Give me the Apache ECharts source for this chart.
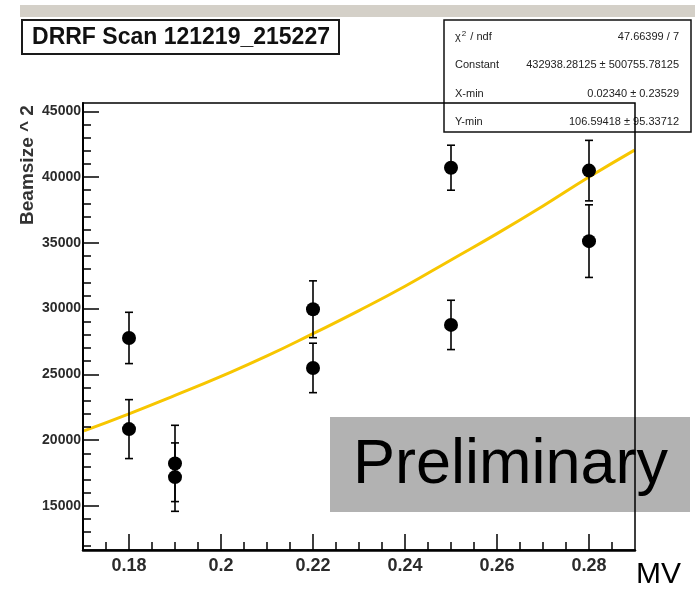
<!DOCTYPE html>
<html>
<head>
<meta charset="utf-8">
<script src="https://cdn.jsdelivr.net/npm/echarts@6/dist/echarts.min.js"></script>
<style>
  html, body { margin: 0; padding: 0; background: #ffffff; }
  #chart { width: 695px; height: 591px; }
</style>
</head>
<body>
<div id="chart"></div>
<script>
// DRRF scan: measured beamsize^2 per MV setting, with vertical errors,
// plus the fitted parabola.
const xValues = [0.18, 0.18, 0.19, 0.19, 0.22, 0.22, 0.25, 0.25, 0.28, 0.28];
const yValues = [27770, 20840, 18230, 17190, 29950, 25490, 40710, 28760, 40490, 35130];
const yErrors = [1950, 2240, 2900, 2600, 2160, 1880, 1710, 1875, 2300, 2760];

// Fit curve samples
const fitX = [0.1702, 0.18, 0.19, 0.20, 0.21, 0.22, 0.23, 0.24, 0.25, 0.26, 0.27, 0.28, 0.2899];
const fitY = [20700, 22000, 23400, 24850, 26400, 28100, 29850, 31700, 33700, 35700, 37800, 40000, 42050];

// Axis ticks
const xMajorTicks = [0.18, 0.2, 0.22, 0.24, 0.26, 0.28];
const xMinorTicks = [0.175, 0.185, 0.19, 0.195, 0.205, 0.21, 0.215, 0.225, 0.23, 0.235,
                     0.245, 0.25, 0.255, 0.265, 0.27, 0.275, 0.285];
const yMajorTicks = [15000, 20000, 25000, 30000, 35000, 40000, 45000];
const yMinorTicks = [12000, 13000, 14000, 16000, 17000, 18000, 19000, 21000, 22000, 23000,
                     24000, 26000, 27000, 28000, 29000, 31000, 32000, 33000, 34000, 36000,
                     37000, 38000, 39000, 41000, 42000, 43000, 44000];

// Fit statistics box
const statsNames = ['chi2', 'Constant', 'X-min', 'Y-min'];
const statsValues = ['47.66399 / 7', '432938.28125 \u00b1 500755.78125',
                     '0.02340 \u00b1 0.23529', '106.59418 \u00b1 95.33712'];

const titleText = 'DRRF Scan 121219_215227';
const yTitle = 'Beamsize ^ 2';
const xTitle = 'MV';
const stampText = 'Preliminary';

const X_MIN = 0.17, X_MAX = 0.29;
const Y_MIN = 11650, Y_MAX = 45630;
const FONT = '"Liberation Sans", Arial, Helvetica, sans-serif';

const chart = echarts.init(document.getElementById('chart'), null, { renderer: 'canvas' });

const gridBox = { left: 83, top: 103, width: 552, height: 447 };

const statsRowY = [37, 65, 93.5, 121.5];
const statsElements = [{
  type: 'rect',
  shape: { x: 444, y: 20, width: 247, height: 112 },
  style: { fill: '#ffffff', stroke: '#111111', lineWidth: 1.5 }
}];
statsNames.forEach((name, i) => {
  statsElements.push({
    type: 'text',
    style: name === 'chi2' ? {
      x: 455, y: statsRowY[i],
      text: '{c|\u03c7}{s|2}{c| / ndf}',
      rich: {
        c: { font: '11px ' + FONT, fill: '#222' },
        s: { font: '8px ' + FONT, fill: '#222', verticalAlign: 'top', padding: [0, 1, 6, 1] }
      },
      verticalAlign: 'middle', align: 'left'
    } : {
      x: 455, y: statsRowY[i], text: name,
      font: '11px ' + FONT, fill: '#222', align: 'left', verticalAlign: 'middle'
    }
  });
  statsElements.push({
    type: 'text',
    style: {
      x: 679, y: statsRowY[i], text: statsValues[i],
      font: '11px ' + FONT, fill: '#222', align: 'right', verticalAlign: 'middle'
    }
  });
});

const option = {
  backgroundColor: '#ffffff',
  animation: false,
  grid: [
    Object.assign({ show: true, borderColor: '#000', borderWidth: 1.5, z: 5, backgroundColor: 'transparent' }, gridBox),
    Object.assign({ show: false }, gridBox)
  ],
  xAxis: [
    {
      gridIndex: 0, type: 'value', min: X_MIN, max: X_MAX, position: 'bottom', z: 6,
      axisLine: { show: true, onZero: false, lineStyle: { color: '#000', width: 2.5 } },
      axisTick: { show: true, inside: true, length: 16, customValues: xMajorTicks,
                  lineStyle: { color: '#000', width: 1.5 } },
      axisLabel: { show: true, customValues: xMajorTicks, margin: 7,
                   color: '#2b2b2b', fontFamily: FONT, fontWeight: 'bold', fontSize: 18,
                   formatter: v => String(v) },
      splitLine: { show: false }
    },
    {
      gridIndex: 1, type: 'value', min: X_MIN, max: X_MAX, position: 'bottom', z: 6,
      axisLine: { show: false },
      axisTick: { show: true, inside: true, length: 8, customValues: xMinorTicks,
                  lineStyle: { color: '#000', width: 1.5 } },
      axisLabel: { show: false },
      splitLine: { show: false }
    }
  ],
  yAxis: [
    {
      gridIndex: 0, type: 'value', min: Y_MIN, max: Y_MAX, position: 'left', z: 6,
      axisLine: { show: true, onZero: false, lineStyle: { color: '#000', width: 2 } },
      axisTick: { show: true, inside: true, length: 16, customValues: yMajorTicks,
                  lineStyle: { color: '#000', width: 1.5 } },
      axisLabel: { show: true, customValues: yMajorTicks, margin: 2,
                   color: '#2b2b2b', fontFamily: FONT, fontWeight: 'bold', fontSize: 14,
                   formatter: v => String(v) },
      splitLine: { show: false }
    },
    {
      gridIndex: 1, type: 'value', min: Y_MIN, max: Y_MAX, position: 'left', z: 6,
      axisLine: { show: false },
      axisTick: { show: true, inside: true, length: 8, customValues: yMinorTicks,
                  lineStyle: { color: '#000', width: 1.5 } },
      axisLabel: { show: false },
      splitLine: { show: false }
    }
  ],
  series: [
    {
      name: 'fit', type: 'line', xAxisIndex: 0, yAxisIndex: 0, z: 3,
      data: fitX.map((x, i) => [x, fitY[i]]),
      showSymbol: false, smooth: true,
      lineStyle: { color: '#f7c600', width: 3 }
    },
    {
      name: 'errors', type: 'custom', xAxisIndex: 0, yAxisIndex: 0, z: 4,
      data: xValues.map((x, i) => [x, yValues[i], yErrors[i]]),
      renderItem: function (params, api) {
        const x = api.value(0), y = api.value(1), e = api.value(2);
        const hi = api.coord([x, y + e]);
        const lo = api.coord([x, y - e]);
        const hw = 4;
        const st = { stroke: '#000', lineWidth: 1.6 };
        return {
          type: 'group',
          children: [
            { type: 'line', shape: { x1: hi[0], y1: hi[1], x2: lo[0], y2: lo[1] }, style: st },
            { type: 'line', shape: { x1: hi[0] - hw, y1: hi[1], x2: hi[0] + hw, y2: hi[1] }, style: st },
            { type: 'line', shape: { x1: lo[0] - hw, y1: lo[1], x2: lo[0] + hw, y2: lo[1] }, style: st }
          ]
        };
      }
    },
    {
      name: 'data', type: 'scatter', xAxisIndex: 0, yAxisIndex: 0, z: 4,
      data: xValues.map((x, i) => [x, yValues[i]]),
      symbol: 'circle', symbolSize: 14,
      itemStyle: { color: '#000', opacity: 1 }
    }
  ],
  graphic: {
    elements: [
      // top strip
      { type: 'rect', z: 1, shape: { x: 20, y: 5, width: 675, height: 12 },
        style: { fill: '#d4d0c8' } },
      // title box
      { type: 'rect', z: 50, shape: { x: 22, y: 20, width: 317, height: 34 },
        style: { fill: '#ffffff', stroke: '#1a1a1a', lineWidth: 2 } },
      { type: 'text', z: 51,
        style: { x: 181, y: 37.5, text: titleText, align: 'center', verticalAlign: 'middle',
                 font: 'bold 23px ' + FONT, fill: '#111' } },
      // fit statistics
      { type: 'group', z: 100, children: statsElements },
      // stamp box, drawn beneath the frame
      { type: 'rect', z: 1, shape: { x: 330, y: 417, width: 360, height: 95 },
        style: { fill: '#b2b2b2' } },
      { type: 'text', z: 2,
        style: { x: 353, y: 466, text: stampText, align: 'left', verticalAlign: 'middle',
                 font: '63px ' + FONT, fill: '#000' } },
      // axis titles
      { type: 'text', z: 10,
        style: { x: 636, y: 575, text: xTitle, align: 'left', verticalAlign: 'middle',
                 font: '30px ' + FONT, fill: '#000' } },
      { type: 'text', z: 10, x: 28, y: 165, rotation: Math.PI / 2,
        style: { x: 0, y: 0, text: yTitle, align: 'center', verticalAlign: 'middle',
                 font: 'bold 19px ' + FONT, fill: '#333' } }
    ]
  }
};

chart.setOption(option);
</script>
</body>
</html>
